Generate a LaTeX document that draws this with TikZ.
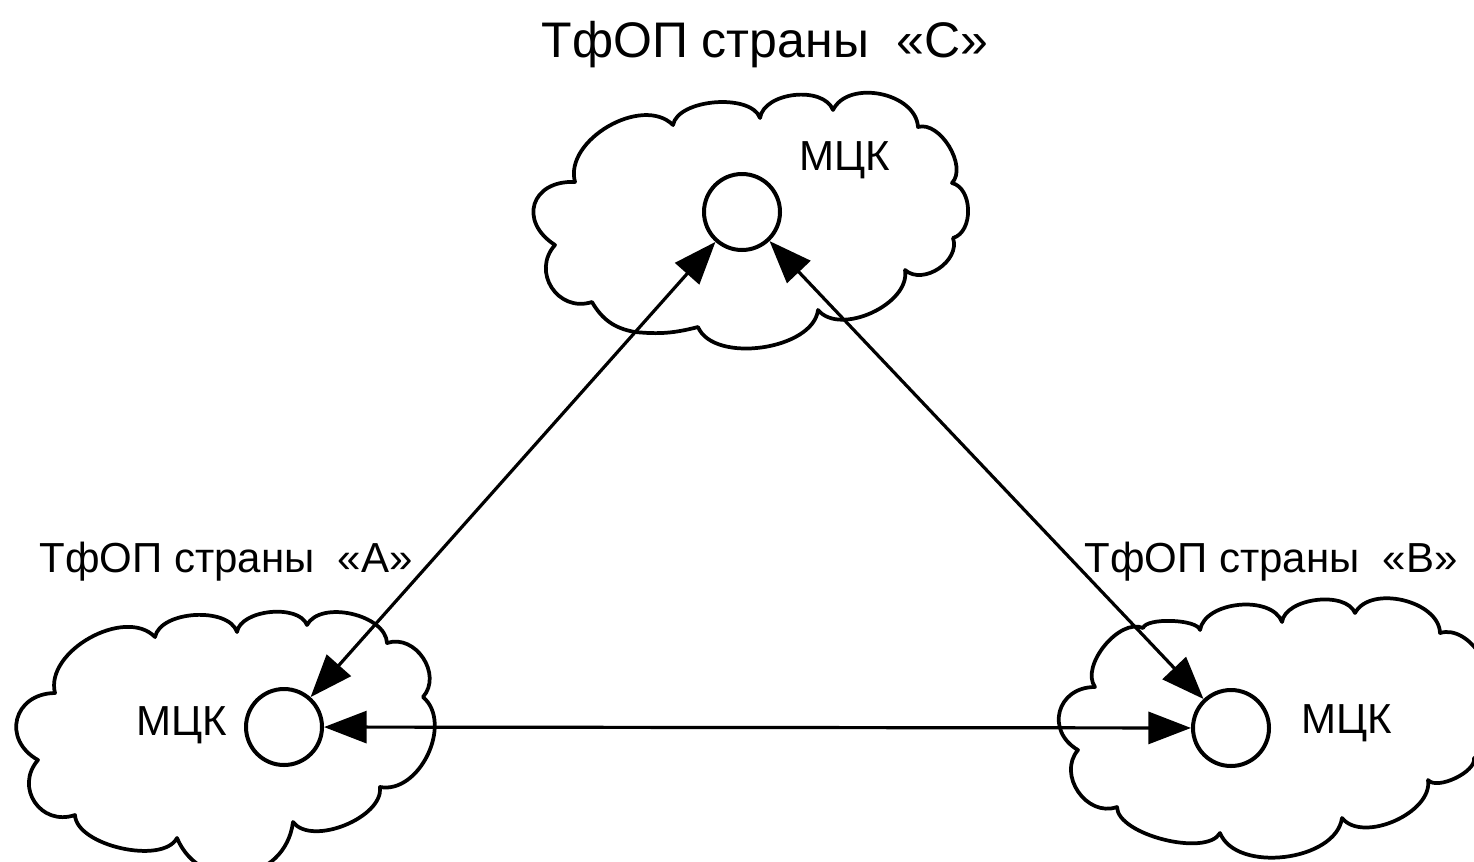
\documentclass[tikz,border=0pt]{standalone}
\usepackage{fontspec}
\setmainfont{Liberation Sans}
\usetikzlibrary{arrows.meta}

\begin{document}
\begin{tikzpicture}[x=0.75pt,y=0.75pt,yscale=-1,xscale=1,
    cloudline/.style={line width=2.8pt, line join=round},
    puff/.style={bend left=75, looseness=#1},
    mck/.style={circle, draw, line width=3pt, minimum size=57pt, inner sep=0pt},
    link/.style={line width=2.4pt, {Triangle[length=32pt,width=24pt]}-{Triangle[length=32pt,width=24pt]}},
    bigtxt/.style={inner sep=0.75pt, anchor=base, font=\fontsize{37.5}{45}\selectfont},
    midtxt/.style={inner sep=0.75pt, anchor=base, font=\fontsize{31.5}{38}\selectfont}]
      %set diagram size 1474 x 861
      \path [use as bounding box, clip] (0,0) rectangle (1474,861);

      %Shape: Cloud top
      \draw [cloudline] (575,182) to[puff=1.7] (555,245) to[puff=1.35] (592,302) to[bend left=25] (635,332) to[bend left=10] (698,327) to[puff=0.85] (818,310) to[puff=0.92] (905,270) to[puff=1.07] (953,238) to[puff=1.0] (952,183) to[puff=0.89] (918,127) to[puff=1.02] (833,110) to[puff=0.92] (760,118) to[puff=0.78] (673,125) to[puff=0.98] (575,182) -- cycle ;
      %Shape: Cloud left
      \draw [cloudline] (55,693) to[puff=1.55] (38,760) to[puff=1.4] (75,815) to[puff=0.75] (177,838) to[puff=1.35] (293,822) to[puff=0.84] (380,787) to[puff=1.03] (423,697) to[puff=1.18] (387,643) to[puff=0.89] (307,625) to[puff=0.83] (237,632) to[puff=0.84] (155,637) to[puff=0.96] (55,693) -- cycle ;
      %Shape: Cloud right
      \draw [cloudline] (1095,687) to[puff=1.5] (1078,750) to[puff=1.2] (1117,807) to[puff=0.67] (1220,833) to[puff=0.91] (1342,818) to[puff=0.9] (1428,780) to[puff=0.7] (1474,758) to[puff=1.0] (1482,700) to[puff=1.0] (1440,633) to[puff=0.95] (1355,613) to[puff=0.85] (1282,622) to[puff=0.91] (1200,630) to[puff=0.5] (1143,628) to[puff=0.87] (1095,687) -- cycle ;

      %Shape: Circle
      \draw (742,212) node (mckC) [mck] {};
      %Shape: Circle
      \draw (284,727) node (mckA) [mck] {};
      %Shape: Circle
      \draw (1231,728) node (mckB) [mck] {};

      %Straight Lines
      \draw [link] (mckA) -- (mckC) ;
      \draw [link] (mckC) -- (mckB) ;
      \draw [link] (mckA) -- (mckB) ;

      % Text Node
      \draw (765,57) node (netC) [bigtxt] {ТфОП страны~~«С»};
      % Text Node
      \draw (226,572) node (netA) [midtxt] {ТфОП страны~~«А»};
      % Text Node
      \draw (1271,572) node (netB) [midtxt] {ТфОП страны~~«В»};
      % Text Node
      \draw (845,170) node (txtC) [midtxt] {МЦК};
      % Text Node
      \draw (182,735) node (txtA) [midtxt] {МЦК};
      % Text Node
      \draw (1347,733) node (txtB) [midtxt] {МЦК};

\end{tikzpicture}
\end{document}
